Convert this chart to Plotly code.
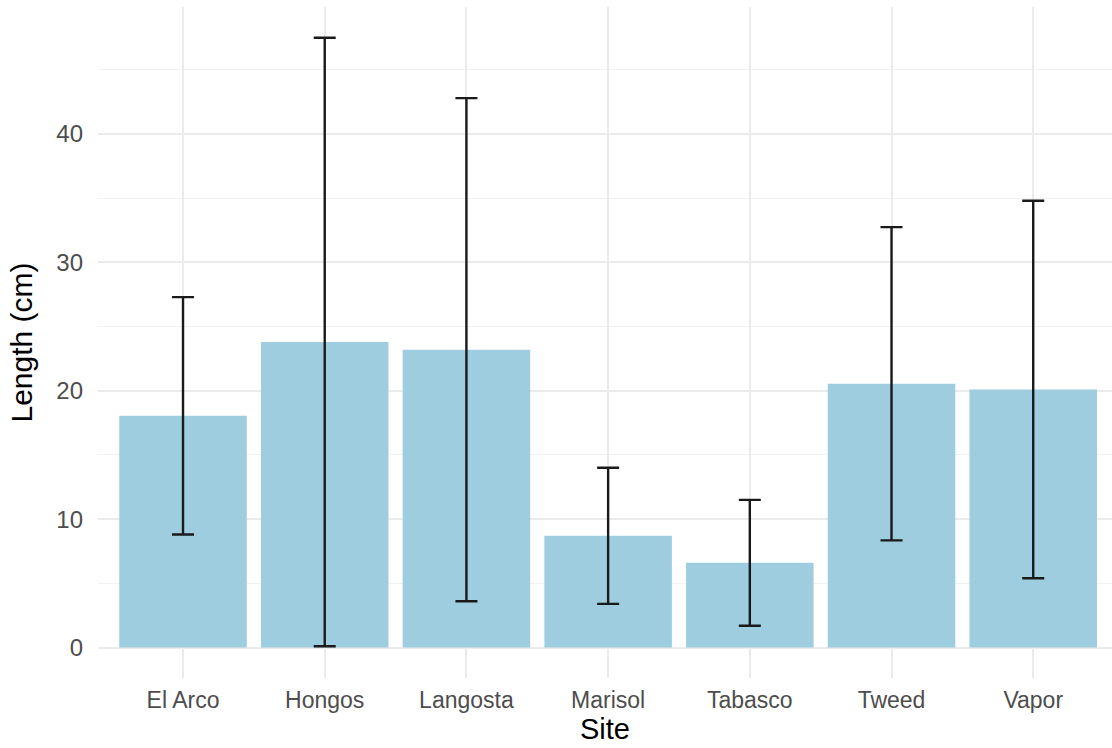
import plotly.graph_objects as go

sites = ["El Arco", "Hongos", "Langosta", "Marisol", "Tabasco", "Tweed", "Vapor"]
mean_length = [18.05, 23.8, 23.2, 8.7, 6.6, 20.55, 20.1]
sd_length = [9.25, 23.7, 19.6, 5.3, 4.9, 12.2, 14.7]

fig = go.Figure()
fig.add_trace(go.Bar(
    x=sites, y=mean_length, width=0.9,
    marker=dict(color="#9ECDE0", line=dict(width=0)),
    error_y=dict(type="data", array=sd_length, visible=True,
                 color="#1a1a1a", thickness=2.4, width=11),
    showlegend=False,
))

fig.update_layout(
    width=1112, height=748,
    margin=dict(l=98, r=0, t=7, b=70),
    paper_bgcolor="white", plot_bgcolor="white",
    font=dict(family="Liberation Sans, Arial, sans-serif"),
    bargap=0.1,
)
fig.update_xaxes(
    range=[-0.6, 6.556],
    showgrid=True, gridcolor="#EBEBEB", gridwidth=1.5,
    tickfont=dict(size=23, color="#4D4D4D"),
    ticks="outside", ticklen=0,
    ticklabelstandoff=1,
    title=dict(text="Site", font=dict(size=29, color="black"), standoff=2),
    zeroline=False, showline=False,
)
fig.update_yaxes(
    range=[-2.375, 49.9],
    tickvals=[0, 10, 20, 30, 40],
    showgrid=True, gridcolor="#EBEBEB", gridwidth=1.5,
    minor=dict(tickvals=[5, 15, 25, 35, 45], showgrid=True, gridcolor="#F2F2F2", gridwidth=1),
    tickfont=dict(size=24, color="#4D4D4D"),
    ticklabelstandoff=14,
    title=dict(text="Length (cm)", font=dict(size=30, color="black"), standoff=14),
    zeroline=False, showline=False,
)

fig.write_html("out.html", config={"displayModeBar": False},
               post_script="document.body.style.margin='0';")
